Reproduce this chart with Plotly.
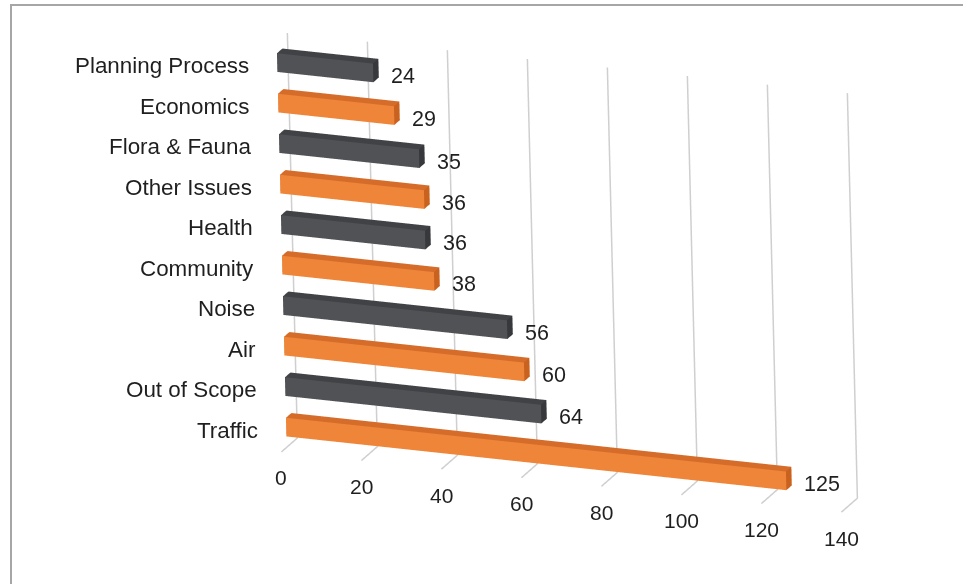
import plotly.graph_objects as go

# Complaint categories, bottom to top
categories = ["Traffic", "Out of Scope", "Air", "Noise", "Community",
              "Health", "Other Issues", "Flora & Fauna", "Economics",
              "Planning Process"]
counts = [125, 64, 60, 56, 38, 36, 36, 35, 29, 24]
tick_values = [0, 20, 40, 60, 80, 100, 120, 140]
tick_labels = ["0", "20", "40", "60", "80", "100", "120", "140"]

# face colours: front, top, end cap
ORANGE = ("#ef8538", "#d66c2a", "#c9621f")
GREY = ("#505256", "#404245", "#36383b")
GRID = "#cfcfcf"
TEXT = "#1f1f1f"
FONT = "Liberation Sans, Arial, sans-serif"

BAR_HALF = 0.23          # half thickness of a bar in category units
DEPTH = (0.33, 0.67)     # front / back of each bar along the depth axis
N_CAT = len(categories)

# value gridlines: along the floor, then up the back wall
gx, gy, gz = [], [], []
for tv in tick_values:
    gx += [tv, tv, tv, None]
    gy += [0, 1, 1, None]
    gz += [0, 0, N_CAT, None]

grid = go.Scatter3d(x=gx, y=gy, z=gz, mode="lines",
                    line=dict(color=GRID, width=3),
                    hoverinfo="skip", showlegend=False)

xs, ys, zs, ii, jj, kk, fcol = [], [], [], [], [], [], []
for idx, (name, val) in enumerate(zip(categories, counts)):
    front, top, cap = ORANGE if idx % 2 == 0 else GREY
    x0, x1 = 0, val
    y0, y1 = DEPTH
    z0, z1 = idx + 0.5 - BAR_HALF, idx + 0.5 + BAR_HALF
    base = len(xs)
    corners = [(x0, y0, z0), (x1, y0, z0), (x1, y1, z0), (x0, y1, z0),
               (x0, y0, z1), (x1, y0, z1), (x1, y1, z1), (x0, y1, z1)]
    for cx, cy, cz in corners:
        xs.append(cx); ys.append(cy); zs.append(cz)
    faces = [((0, 1, 5), front), ((0, 5, 4), front),
             ((3, 7, 6), front), ((3, 6, 2), front),
             ((4, 5, 6), top), ((4, 6, 7), top),
             ((0, 2, 1), top), ((0, 3, 2), top),
             ((1, 2, 6), cap), ((1, 6, 5), cap),
             ((0, 4, 7), cap), ((0, 7, 3), cap)]
    for (a, b, c), col in faces:
        ii.append(base + a); jj.append(base + b); kk.append(base + c)
        fcol.append(col)

bars = go.Mesh3d(
    x=xs, y=ys, z=zs, i=ii, j=jj, k=kk,
    facecolor=fcol, flatshading=True,
    lighting=dict(ambient=1.0, diffuse=0.0, specular=0.0,
                  roughness=1.0, fresnel=0.0),
    hoverinfo="skip", showscale=False,
)

fig = go.Figure([grid, bars])

annotations = []
# category names to the left of the bars
for idx, name in enumerate(categories):
    annotations.append(dict(
        x=0, y=DEPTH[0], z=idx + 0.5, text=name, showarrow=False,
        xanchor="right", yanchor="middle", xshift=-26, yshift=-3,
        font=dict(family=FONT, size=22.4, color=TEXT)))
# value labels at the bar ends
for idx, val in enumerate(counts):
    annotations.append(dict(
        x=val, y=DEPTH[0], z=idx + 0.5, text=str(val), showarrow=False,
        xanchor="left", yanchor="middle", xshift=16, yshift=-3,
        font=dict(family=FONT, size=21.5, color=TEXT)))
# value axis tick labels along the front edge of the floor
for tv, tl in zip(tick_values, tick_labels):
    annotations.append(dict(
        x=tv, y=0, z=0, text=tl, showarrow=False,
        xanchor="center", yanchor="middle", yshift=-26,
        font=dict(family=FONT, size=21, color=TEXT)))

hidden_axis = dict(visible=False, showgrid=False, zeroline=False,
                   showline=False, showbackground=False,
                   showspikes=False, showticklabels=False, ticks="",
                   title=dict(text=""))

fig.update_layout(
    width=963, height=584,
    margin=dict(l=0, r=0, t=0, b=0),
    paper_bgcolor="white",
    showlegend=False,
    scene=dict(
        domain=dict(x=[0, 1], y=[0, 1]),
        bgcolor="rgba(0,0,0,0)",
        xaxis=dict(range=[0, 140], **hidden_axis),
        yaxis=dict(range=[0, 1], **hidden_axis),
        zaxis=dict(range=[0, N_CAT], **hidden_axis),
        aspectmode="manual",
        aspectratio=dict(x=2.05877, y=0.15099, z=1.47092),
        camera=dict(
            projection=dict(type="orthographic"),
            up=dict(x=-0.100140, y=0.317540, z=0.942935),
            center=dict(x=-0.257742, y=-0.124123, z=-0.056104),
            eye=dict(x=0.441426, y=-1.876205, z=0.608174),
        ),
        annotations=annotations,
    ),
    shapes=[dict(type="rect", xref="paper", yref="paper",
                 x0=11 / 963, x1=1.02, y0=-0.03, y1=1 - 5 / 584,
                 line=dict(color="#a6a6a6", width=2),
                 fillcolor="rgba(0,0,0,0)", layer="above")],
)

fig.write_html("out.html")
